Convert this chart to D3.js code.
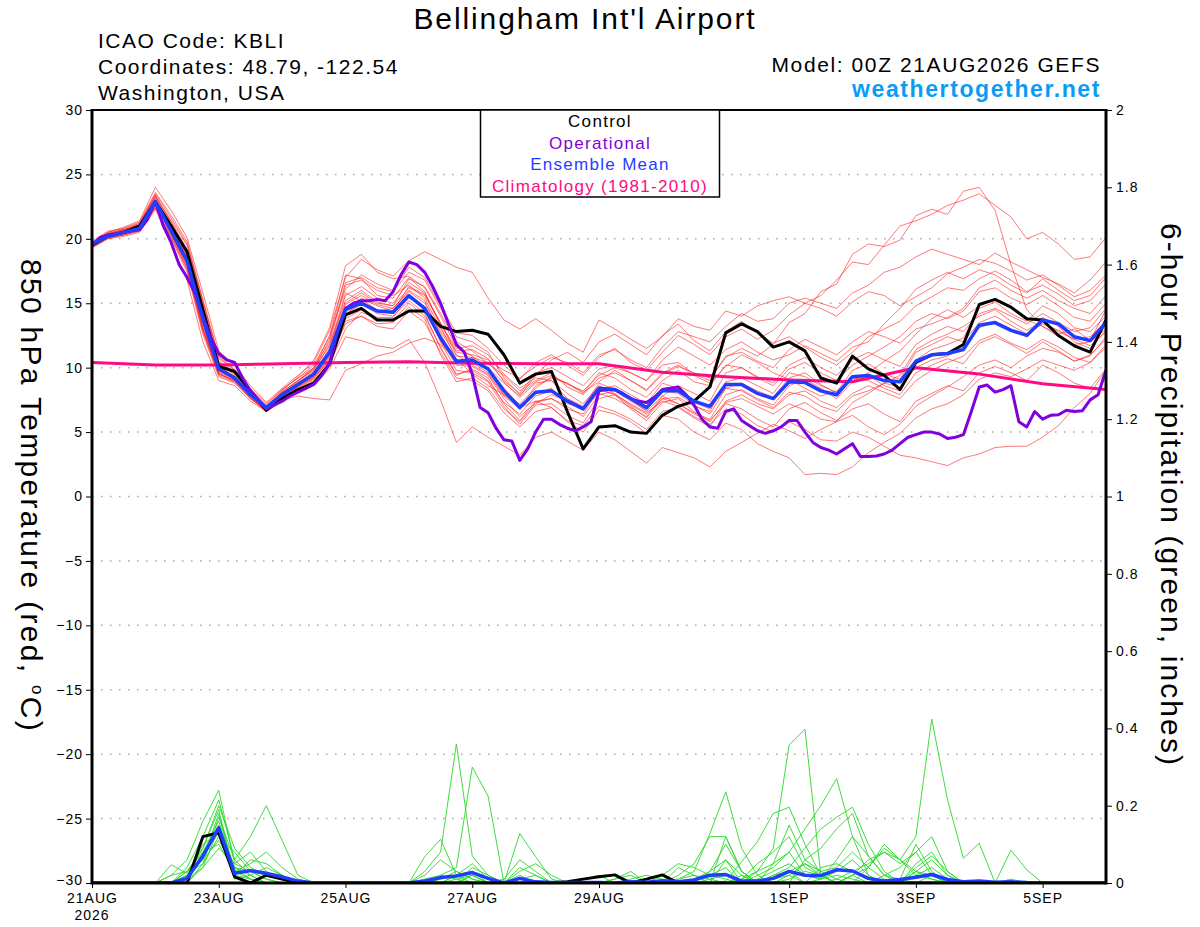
<!DOCTYPE html>
<html>
<head>
<meta charset="utf-8">
<script src="https://cdn.jsdelivr.net/npm/d3@7"></script>
<style>
body { margin: 0; background: #fff; }
text { font-family: "Liberation Sans", Arial, Helvetica, sans-serif; }
</style>
</head>
<body>
<svg id="chart" width="1200" height="927"></svg>
<script>
// forecast hours (00Z 21AUG2026 run, 16 days)
var hours6 = d3.range(0, 385, 6);
var hours3 = d3.range(0, 385, 3);
var hours24 = d3.range(0, 385, 24);

var tempTicks = [-30, -25, -20, -15, -10, -5, 0, 5, 10, 15, 20, 25, 30];
var precipTicks = [0, 0.2, 0.4, 0.6, 0.8, 1, 1.2, 1.4, 1.6, 1.8, 2];
var dateTickHours = [0, 48, 96, 144, 192, 264, 312, 360];
var dateTickLabels = ["21AUG", "23AUG", "25AUG", "27AUG", "29AUG", "1SEP", "3SEP", "5SEP"];

// 850 hPa temperature, 6-hourly
var control = [19.5,20.2,20.5,21.0, 22.9,21.0,19.0,14.5, 10.1,9.7,8.2,6.7, 7.6,8.3,8.8,10.3,
  14.1,14.6,13.7,13.7, 14.4,14.4,13.2,12.8, 12.9,12.6,11.0,8.8, 9.5,9.7,6.6,3.7,
  5.4,5.5,5.0,4.9, 6.3,7.0,7.4,8.5, 12.7,13.4,12.8,11.6, 12.0,11.3,9.2,8.8,
  10.9,9.9,9.4,8.3, 10.4,11.0,11.1,11.8, 14.9,15.3,14.7,13.8, 13.7,12.5,11.7,11.2, 13.7];

var ensMean = [19.6,20.2,20.5,20.8, 22.9,20.6,18.3,13.8, 9.9,9.2,7.9,6.9, 7.9,8.7,9.5,11.2,
  14.5,15.0,14.4,14.3, 15.6,14.6,12.3,10.5, 10.6,9.9,8.2,6.9, 8.1,8.2,7.4,6.8,
  8.4,8.3,7.6,6.9, 8.2,8.2,7.4,7.0, 8.7,8.7,8.0,7.6, 8.9,8.85,8.2,7.9,
  9.3,9.4,9.0,8.9, 10.5,11.0,11.1,11.4, 13.3,13.5,12.9,12.5, 13.7,13.4,12.4,12.1, 13.5];

// operational run, 3-hourly
var operational = [19.5,20.1,20.3,20.4,20.5,20.6,20.7,21.5,
  22.9,21.0,19.7,18.0,17.0,15.8,14.0,12.3,
  11.1,10.6,10.4,9.2,8.2,7.5,6.8,7.1,
  7.4,7.8,8.1,8.4,8.7,9.4,10.3,12.8,
  14.6,15.0,15.2,15.2,15.3,15.2,15.9,17.2,
  18.2,18.0,17.4,16.3,15.0,13.4,11.8,11.2,
  9.5,6.9,6.5,5.3,4.4,4.3,2.8,3.7,
  5.0,6.0,6.0,5.6,5.3,5.1,5.4,5.8,
  8.2,8.3,8.3,8.0,7.6,7.4,7.3,7.7,
  8.3,8.4,8.5,7.9,7.1,6.0,5.4,5.3,
  6.6,6.8,5.9,5.5,5.1,4.9,5.1,5.4,
  5.9,5.9,5.0,4.2,3.8,3.6,3.3,3.7,
  4.1,3.1,3.1,3.15,3.3,3.6,4.1,4.6,
  4.8,5.0,5.0,4.85,4.5,4.6,4.8,6.6,
  8.5,8.65,8.1,8.3,8.6,5.8,5.4,6.6,
  6.0,6.3,6.35,6.7,6.6,6.65,7.5,7.9,
  9.8];

// climatology (1981-2010), daily
var climatology = [10.4,10.2,10.2,10.3,10.4,10.45,10.35,10.3,10.3,9.65,9.3,9.05,8.9,10.0,9.5,8.75,8.3];

// ensemble members, 850 hPa temperature, 6-hourly
var members = [
  [19.4,20.3,20.6,21.2,23.3,21.4,19.5,15.0,10.8,9.8,8.2,6.8,8.1,9.0,9.8,
   11.8,15.2,16.0,15.1,14.8,16.9,16.3,14.2,12.0,11.3,
   10.3,9.4,8.2,9.0,9.6,8.5,7.9,9.2,9.6,9.0,8.2,9.5,10.1,9.6,9.2,10.8,11.5,10.9,11.8,13.5,14.2,15.9,16.5,
   18.8,19.6,19.4,19.9,21.8,22.3,21.9,23.7,24.0,22.2,18.0,14.5,13.2,12.6,13.0,12.1,14.5],
  [19.7,20.4,20.7,21.0,22.6,20.9,18.8,14.2,10.4,9.6,8.4,7.2,8.3,9.2,10.0,
   12.5,16.1,17.2,16.5,16.0,17.8,17.0,14.8,12.7,12.5,
   11.5,10.2,9.1,10.4,11.0,10.2,9.4,10.8,11.5,10.4,9.8,11.2,12.5,11.8,11.0,12.4,13.0,12.2,12.9,14.1,15.0,15.6,16.8,
   18.2,18.0,19.5,21.0,21.4,21.9,22.6,23.0,23.5,22.6,21.7,20.0,20.5,19.6,18.4,18.6,20.1],
  [19.5,20.1,20.3,20.6,22.4,20.2,17.6,12.8,9.5,9.0,7.7,6.6,7.6,8.4,9.1,
   10.6,13.4,14.0,13.2,13.0,14.4,13.5,11.2,9.2,9.0,
   8.2,6.5,5.4,6.6,6.9,5.8,5.0,6.7,6.4,5.8,4.9,6.3,6.0,5.0,4.4,5.7,5.2,4.1,3.5,3.0,1.7,1.8,1.7,
   2.3,3.4,4.2,4.9,6.1,6.8,7.2,7.9,9.1,9.6,9.3,9.9,10.6,10.2,9.8,10.4,11.8],
  [19.4,20.2,20.5,20.9,23.0,20.8,18.6,13.9,10.1,9.3,8.0,7.0,8.0,8.8,9.7,
   11.5,14.9,15.6,14.9,14.6,15.9,15.0,12.8,10.9,10.8,
   9.8,8.4,7.1,8.0,8.4,7.2,6.9,8.3,7.9,7.2,6.5,7.4,7.0,6.2,5.6,6.8,6.4,5.5,5.0,5.8,5.2,4.4,4.3,
   5.0,4.6,3.9,3.2,3.0,2.7,2.4,3.0,3.3,3.8,3.9,3.9,4.6,5.5,6.9,8.0,9.8],
  [19.6,20.5,20.9,21.4,24.0,22.2,20.1,15.8,11.3,10.2,8.6,7.3,8.4,9.4,10.4,
   12.9,17.0,18.4,17.6,17.1,18.3,19.0,18.4,17.8,17.4,
   15.4,13.7,13.0,13.8,12.9,11.9,11.2,13.7,13.0,12.2,11.5,12.4,13.8,13.2,12.9,14.4,14.0,14.8,15.2,15.5,15.0,14.6,14.0,
   15.1,15.9,15.6,14.8,15.5,16.2,17.3,17.8,18.4,18.1,17.5,16.8,17.2,16.4,15.5,16.0,17.2],
  [19.3,20.0,20.2,20.5,22.3,19.6,16.8,12.0,9.0,8.6,7.4,6.6,7.4,8.1,8.7,
   9.9,12.4,12.1,11.7,11.5,12.2,10.4,7.5,4.2,5.4,
   4.6,3.9,3.2,4.6,5.0,4.3,3.6,5.0,4.4,3.5,2.6,3.8,3.4,3.0,2.3,3.5,4.2,4.9,5.6,5.1,4.5,5.2,5.8,
   6.3,5.4,4.8,5.6,7.0,7.8,8.5,9.3,10.2,10.6,10.0,10.9,11.5,11.2,10.5,11.0,12.2],
  [19.5,20.3,20.4,20.7,22.7,20.3,17.9,13.0,9.6,8.9,7.6,6.7,7.5,7.8,7.6,
   7.5,9.8,10.3,10.9,11.2,11.9,12.3,11.8,10.7,9.5,
   8.6,7.9,7.2,8.4,9.3,8.8,8.1,8.9,9.8,9.0,8.3,9.6,10.2,9.4,8.8,10.1,11.0,10.4,9.6,9.1,8.4,7.8,8.2,
   9.0,9.6,10.5,11.3,12.6,13.8,14.5,13.9,14.8,15.3,14.6,13.7,13.2,12.4,11.8,12.0,13.0],
  [19.8,20.6,20.8,21.3,23.6,21.8,19.8,15.2,10.9,9.9,8.3,7.0,8.2,9.3,10.6,
   13.1,17.9,18.8,17.4,16.9,17.1,16.2,14.0,11.6,10.9,
   10.0,8.8,7.8,9.4,10.6,11.2,10.4,12.0,12.6,11.8,11.0,12.5,13.4,12.1,11.3,12.8,13.6,12.7,11.9,12.4,11.6,10.8,10.2,
   11.2,12.4,13.0,13.6,14.8,15.5,16.2,16.0,16.9,17.5,16.8,15.9,16.4,15.7,14.8,15.2,16.5],
  [19.4,20.1,20.4,20.8,22.8,20.5,18.0,13.2,9.8,9.2,7.8,6.6,7.8,8.7,9.4,
   11.0,14.6,15.3,14.5,14.2,15.4,14.7,12.0,9.8,9.6,
   8.9,7.0,5.6,7.1,7.2,6.3,5.7,7.6,7.9,6.8,5.9,7.3,7.6,6.6,5.8,7.4,7.9,7.2,6.8,7.9,8.2,7.4,6.9,
   8.0,8.6,8.1,7.6,9.0,9.8,10.4,10.9,12.1,12.6,11.9,11.4,12.2,11.6,10.8,10.4,11.6],
  [19.6,20.2,20.5,20.9,23.1,20.9,18.6,13.8,10.0,9.4,8.0,7.0,8.0,8.8,9.6,
   11.4,15.6,16.3,15.4,15.0,16.6,15.8,13.4,11.5,11.7,
   11.0,9.5,8.4,9.2,9.0,7.6,7.0,8.8,8.3,7.5,6.6,7.8,7.2,6.5,6.0,7.9,8.3,7.6,7.1,8.6,9.1,8.4,7.6,
   8.9,9.4,8.6,8.2,10.6,11.4,11.8,12.3,14.6,15.1,14.2,13.6,14.8,14.2,13.1,12.8,14.0],
  [19.7,20.3,20.6,20.9,22.9,20.7,18.2,13.4,9.7,9.1,7.9,6.8,7.9,8.6,9.3,
   10.9,13.8,14.5,13.9,13.9,15.5,14.6,12.1,10.2,10.1,
   9.4,7.6,6.2,7.3,7.6,7.0,6.2,7.9,8.2,7.4,6.7,8.2,8.0,7.1,6.4,8.4,8.2,7.5,6.9,8.1,7.8,7.0,6.6,
   7.8,8.2,8.8,8.5,10.0,10.6,10.9,11.6,13.1,13.6,13.0,12.4,13.9,13.2,12.0,11.5,12.9],
  [19.5,20.4,20.7,21.1,23.4,21.2,19.0,14.5,10.5,9.7,8.2,6.9,8.1,9.0,10.0,
   12.0,16.4,16.8,16.0,15.6,16.4,15.4,13.0,11.2,11.0,
   10.6,9.8,9.2,10.1,10.8,10.4,9.6,11.0,11.4,10.6,10.0,11.6,12.8,12.4,12.0,13.2,14.2,13.6,13.8,15.0,15.4,15.0,14.6,
   15.8,16.4,17.4,17.8,18.6,19.2,18.8,18.4,18.0,18.9,18.2,17.6,17.0,16.5,15.8,16.8,18.2],
  [19.4,20.1,20.3,20.7,22.5,20.0,17.4,12.6,9.3,8.8,7.6,6.6,7.6,8.3,9.0,
   10.3,13.0,14.3,13.8,13.6,15.0,14.0,11.6,9.5,9.8,
   9.0,7.3,6.4,7.8,8.2,7.6,6.9,8.4,7.9,7.0,6.1,7.6,7.2,6.4,5.9,7.2,6.8,6.0,5.4,6.8,7.3,6.5,5.9,
   6.8,7.2,6.4,5.8,7.4,8.0,8.6,8.2,9.6,10.1,9.6,9.0,10.2,9.6,8.8,8.4,9.9],
  [19.6,20.4,20.7,21.0,23.0,20.8,18.4,13.6,10.0,9.3,8.0,6.9,7.9,8.8,9.5,
   11.3,15.0,15.8,15.0,14.8,16.2,15.6,13.5,11.0,10.2,
   9.5,7.8,6.8,8.6,9.2,8.8,8.0,9.6,9.2,8.3,7.7,9.0,9.8,8.9,8.6,10.2,10.0,9.2,8.6,9.9,10.4,9.6,9.0,
   10.2,10.9,11.6,12.4,13.6,14.2,13.8,14.4,15.9,16.2,15.4,14.9,15.6,14.8,13.9,13.6,15.0],
  [19.5,20.2,20.5,20.8,22.8,20.6,18.1,13.1,9.6,9.0,7.8,6.8,7.8,8.6,9.3,
   10.8,14.2,14.9,14.2,14.0,15.2,14.2,11.5,9.4,9.9,
   9.2,7.2,5.9,7.4,7.6,6.8,6.4,8.3,8.6,7.9,7.2,8.8,8.4,7.3,6.8,8.4,8.8,8.2,7.7,9.2,9.6,8.7,8.0,
   9.2,9.0,8.4,7.9,9.6,10.2,10.7,10.3,11.9,12.4,11.8,11.1,12.0,11.3,10.5,10.9,12.4],
  [19.7,20.5,20.8,21.2,23.5,21.6,19.6,15.3,10.7,9.8,8.3,7.1,8.3,9.2,10.2,
   12.4,17.2,16.9,15.6,15.4,17.0,15.9,13.2,10.6,10.4,
   9.6,7.9,6.9,7.4,6.9,5.9,5.5,7.0,6.6,6.0,5.2,6.6,6.9,6.1,5.4,7.3,7.6,7.0,6.4,7.2,6.7,6.0,5.8,
   7.3,8.0,8.8,9.4,11.4,12.1,12.6,13.2,14.0,14.5,13.6,12.9,13.6,12.8,12.2,11.7,12.8],
  [19.3,20.0,20.3,20.6,22.4,20.1,17.7,12.9,9.4,8.9,7.6,6.7,7.7,8.5,9.2,
   10.7,14.0,15.4,14.8,14.4,16.3,15.7,13.4,11.3,11.4,
   10.7,8.9,7.7,8.8,9.0,8.0,7.2,8.6,8.0,7.1,6.4,7.6,7.7,7.0,6.6,8.9,9.2,8.6,8.0,9.6,9.3,8.6,8.1,
   9.8,10.3,9.5,9.1,11.2,11.8,12.4,12.0,13.5,14.0,13.3,12.6,13.4,12.9,12.2,12.4,13.6],
  [19.6,20.3,20.6,21.0,23.2,21.0,18.8,14.0,10.2,9.5,8.1,7.0,8.1,9.0,9.9,
   11.7,15.8,15.2,14.4,14.6,16.0,15.2,12.6,10.4,10.8,
   10.4,9.0,8.0,9.6,10.0,9.3,8.6,9.9,10.2,9.6,9.0,10.2,10.4,9.5,9.0,10.9,11.2,10.5,10.0,11.4,12.2,11.6,11.0,
   12.0,12.8,12.4,11.9,13.0,13.4,13.9,14.6,16.2,16.8,16.0,15.4,16.0,15.2,14.6,14.2,15.6],
  [19.5,20.2,20.4,20.8,22.6,20.4,17.8,13.0,9.5,9.0,7.7,6.7,7.7,8.5,9.2,
   10.6,13.6,14.0,13.4,13.5,14.7,13.8,11.0,8.9,9.2,
   8.4,6.8,5.8,7.2,7.9,7.4,6.8,8.0,7.6,6.9,6.2,7.8,8.6,8.0,7.4,9.6,10.0,9.3,8.8,10.2,10.8,10.0,9.4,
   10.6,11.2,10.6,10.1,11.8,12.6,13.2,12.8,14.2,14.6,14.0,13.4,14.2,13.5,12.8,13.1,14.6],
  [19.6,20.4,20.7,21.1,23.3,21.3,19.2,14.6,10.4,9.6,8.1,6.9,8.0,8.9,9.9,
   12.2,16.6,17.0,16.2,15.9,17.4,16.8,14.6,12.4,12.0,
   11.2,9.2,7.9,8.9,9.4,8.7,8.2,9.4,10.0,9.6,9.0,10.6,11.6,10.9,10.2,11.4,12.0,11.2,10.6,11.0,11.7,11.1,10.5,
   11.6,12.0,13.4,14.6,16.1,16.8,17.4,16.9,17.6,17.2,16.4,15.8,16.9,16.0,15.2,15.6,17.0]
];

// 6-hour precipitation (inches), 6-hourly
var controlPrecip = [0,0,0,0, 0,0,0,0.12, 0.13,0.016,0,0.02, 0.01,0,0,0, 0,0,0,0, 0,0,0,0, 0,0,0,0,
  0,0,0.003,0.01, 0.016,0.021,0,0.01, 0.021,0,0,0, 0,0,0,0, 0,0,0,0, 0,0,0,0, 0,0,0,0,
  0,0,0,0, 0,0,0,0, 0];
var meanPrecip = [0,0,0,0, 0,0,0.012,0.07, 0.143,0.025,0.032,0.025, 0.016,0.005,0,0, 0,0,0,0,
  0,0.005,0.014,0.018, 0.027,0.012,0,0.012, 0.003,0.001,0.001,0.001, 0.001,0,0.003,0.002,
  0.006,0.003,0.008,0.02, 0.022,0.005,0.005,0.012, 0.03,0.02,0.019,0.034, 0.031,0.012,0.005,0.009,
  0.015,0.022,0.009,0.003, 0.005,0.002,0.003,0.001, 0,0,0,0, 0];

var memberPrecip = [
  [0,0,0,0, 0,0.02,0.06,0.16, 0.24,0.05,0.03,0.01, 0,0,0,0, 0,0,0,0, 0,0,0,0.02, 0.05,0.01,0,0, 0,0,0,0,
   0,0,0,0, 0,0,0.01,0.03, 0.06,0.02,0,0, 0.01,0.03,0.02,0, 0,0,0,0, 0.02,0.04,0.01,0, 0,0,0,0, 0,0,0,0, 0],
  [0,0,0,0, 0,0,0.04,0.12, 0.215,0.06,0.02,0, 0,0,0,0, 0,0,0,0, 0,0.02,0.06,0.03, 0.01,0,0,0, 0,0,0,0,
   0,0,0,0, 0,0,0,0.01, 0.02,0,0.01,0.03, 0.05,0.02,0.01,0.03, 0.06,0.02,0,0, 0,0.02,0,0, 0,0,0,0, 0,0,0,0, 0],
  [0,0,0,0, 0,0,0.03,0.09, 0.2,0.09,0.04,0.02, 0.01,0,0,0, 0,0,0,0, 0,0.068,0.113,0.02, 0,0,0,0, 0,0,0,0.01,
   0.02,0,0,0, 0,0,0,0, 0.12,0.03,0,0.01, 0.02,0,0.04,0.05, 0.03,0.01,0,0, 0.05,0.08,0.02,0, 0,0,0,0, 0,0,0,0, 0],
  [0,0,0,0, 0,0.047,0.025,0.05, 0.17,0.06,0.12,0.2, 0.11,0.02,0,0, 0,0,0,0, 0,0,0,0, 0.02,0,0,0, 0,0,0,0,
   0,0,0,0, 0,0.01,0.02,0.01, 0,0,0.02,0.04, 0.08,0.02,0.01,0.06, 0.12,0.07,0.02,0, 0,0,0,0, 0,0,0,0, 0,0,0,0, 0],
  [0,0,0,0, 0,0,0.01,0.07, 0.15,0.04,0.02,0, 0,0,0,0, 0,0,0,0, 0,0.03,0.08,0.36, 0.07,0.02,0,0.02, 0,0,0,0,
   0,0,0,0, 0,0,0,0, 0,0.01,0.05,0.08, 0.12,0.04,0.02,0, 0.02,0.04,0.09,0.06, 0.03,0.01,0,0, 0,0,0,0, 0,0,0,0, 0],
  [0,0,0,0, 0,0,0.02,0.1, 0.13,0.03,0.01,0, 0,0,0,0, 0,0,0,0, 0,0,0.02,0.04, 0.3,0.225,0,0.01, 0.02,0,0,0,
   0,0,0,0, 0,0.02,0.05,0.12, 0.12,0.03,0,0, 0.02,0.05,0.03,0.01, 0,0,0.02,0.04, 0.08,0.12,0.03,0, 0,0,0,0, 0,0,0,0, 0],
  [0,0,0,0, 0,0,0,0.05, 0.12,0.08,0.03,0.01, 0,0,0,0, 0,0,0,0, 0,0,0,0, 0.04,0.02,0,0.128, 0.068,0.01,0,0,
   0,0,0,0, 0.02,0.05,0.04,0.02, 0.01,0,0,0, 0,0.06,0.09,0.14, 0.18,0.07,0.02,0.01, 0,0,0,0, 0,0,0,0, 0,0,0,0, 0],
  [0,0,0,0, 0,0,0.01,0.08, 0.1,0.03,0.05,0.08, 0.04,0.01,0,0, 0,0,0,0, 0,0,0,0, 0.02,0,0.01,0.06, 0.03,0,0,0,
   0,0,0,0, 0,0.01,0.03,0.128, 0.236,0.09,0.02,0, 0,0,0.01,0.02, 0.01,0,0,0, 0.03,0.06,0.02,0, 0,0,0,0, 0,0,0,0, 0],
  [0,0,0,0, 0,0,0.02,0.06, 0.18,0.02,0,0, 0,0,0,0, 0,0,0,0, 0,0,0,0, 0,0,0,0, 0,0,0,0,
   0,0,0,0, 0,0,0,0, 0.005,0.055,0.107,0.18, 0.196,0.1,0.02,0, 0.02,0,0,0.01, 0.1,0.03,0,0, 0,0,0,0, 0,0,0,0, 0],
  [0,0,0,0, 0,0,0.03,0.08, 0.16,0.04,0.03,0.02, 0.01,0,0,0, 0,0,0,0, 0,0,0.01,0.02, 0.03,0,0,0, 0,0,0,0,
   0,0,0,0, 0,0,0.01,0.02, 0.04,0,0.03,0.09, 0.357,0.398,0.02,0, 0,0.04,0.1,0.06, 0.02,0.01,0,0, 0,0,0,0, 0,0,0,0, 0],
  [0,0,0,0, 0,0,0,0.04, 0.14,0.02,0.06,0.05, 0.02,0,0,0, 0,0,0,0, 0,0,0,0.01, 0.02,0,0,0.04, 0.02,0,0,0,
   0,0,0,0, 0,0,0,0, 0,0.01,0.03,0.05, 0.08,0.14,0.2,0.27, 0.12,0.02,0,0, 0.04,0.07,0.03,0, 0,0,0,0, 0,0,0,0, 0],
  [0,0,0,0, 0,0.02,0.03,0.06, 0.11,0.04,0.01,0, 0,0,0,0, 0,0,0,0, 0,0.01,0.02,0.01, 0,0,0,0, 0,0,0,0,
   0,0.01,0.02,0, 0,0,0,0, 0,0.02,0,0.02, 0.04,0.09,0.14,0.17, 0.196,0.1,0.03,0, 0.03,0.02,0,0, 0,0,0,0, 0,0,0,0, 0],
  [0,0,0,0, 0,0,0.02,0.09, 0.19,0.02,0.01,0, 0,0,0,0, 0,0,0,0, 0,0,0.01,0.03, 0.01,0,0,0, 0,0,0,0,
   0,0,0,0, 0,0,0,0, 0,0,0,0.01, 0.03,0,0,0.01, 0.03,0.05,0.08,0.06, 0.12,0.424,0.215,0.064, 0.103,0,0.085,0.034, 0,0,0,0, 0],
  [0,0,0,0, 0,0,0.01,0.04, 0.09,0.05,0.08,0.03, 0.01,0,0,0, 0,0,0,0, 0,0,0,0.02, 0.03,0.01,0,0.03, 0.05,0.02,0,0,
   0,0.01,0.03,0, 0,0.04,0.02,0, 0.06,0,0,0.02, 0.03,0.05,0.02,0, 0.02,0.06,0.08,0.05, 0.08,0.02,0.01,0, 0,0,0.01,0, 0,0,0,0, 0],
  [0,0,0,0, 0,0,0.02,0.07, 0.13,0.01,0.02,0.04, 0.02,0,0,0, 0,0,0,0, 0,0,0,0, 0,0,0,0, 0,0,0,0,
   0,0,0.01,0.02, 0.01,0,0,0.03, 0.1,0.03,0,0.05, 0.15,0.06,0.03,0.04, 0.08,0.04,0.01,0, 0,0,0,0, 0,0,0,0, 0,0,0,0, 0]
];

var legendItems = [
  {label: "Control", color: "#000000"},
  {label: "Operational", color: "#8000e0"},
  {label: "Ensemble Mean", color: "#1f3dff"},
  {label: "Climatology (1981-2010)", color: "#ff0a82"}
];

var margin = {top: 110, right: 94, bottom: 44, left: 92};
var width = 1200 - margin.left - margin.right;
var height = 927 - margin.top - margin.bottom;

var svg = d3.select("#chart");

var x = d3.scaleLinear().domain([0, 384]).range([0, width]);
var yT = d3.scaleLinear().domain([-30, 30]).range([height, 0]);
var yP = d3.scaleLinear().domain([0, 2]).range([height, 0]);

var main = svg.append("g")
    .attr("transform", "translate(" + margin.left + "," + margin.top + ")");

main.append("clipPath").attr("id", "plotclip")
  .append("rect").attr("x", 0).attr("y", -2).attr("width", width).attr("height", height + 2);

// dotted grid
main.append("g").selectAll("line")
    .data(tempTicks.filter(function(d) { return d > -30 && d < 30; }))
    .enter().append("line")
    .attr("x1", 0).attr("x2", width)
    .attr("y1", function(d) { return yT(d); })
    .attr("y2", function(d) { return yT(d); })
    .attr("stroke", "#a8a8a8")
    .attr("stroke-width", 1.5)
    .attr("stroke-dasharray", "1.5,7.5");

var plot = main.append("g").attr("clip-path", "url(#plotclip)");

function drawSeries(values, hrs, yScale, color, w, opacity) {
  var line = d3.line()
    .x(function(d, i) { return x(hrs[i]); })
    .y(function(d) { return yScale(d); });
  plot.append("path")
    .datum(values)
    .attr("d", line)
    .attr("fill", "none")
    .attr("stroke", color)
    .attr("stroke-width", w)
    .attr("stroke-opacity", opacity)
    .attr("stroke-linejoin", "round");
}

members.forEach(function(m) { drawSeries(m, hours6, yT, "#ff2020", 1, 0.6); });
memberPrecip.forEach(function(m) { drawSeries(m, hours6, yP, "#2ad82a", 1, 0.9); });

drawSeries(climatology, hours24, yT, "#ff0a82", 3, 1);
drawSeries(controlPrecip, hours6, yP, "#000000", 3, 1);
drawSeries(meanPrecip, hours6, yP, "#1f3dff", 3.5, 1);
drawSeries(control, hours6, yT, "#000000", 3, 1);
drawSeries(operational, hours3, yT, "#8000e0", 3, 1);
drawSeries(ensMean, hours6, yT, "#1f3dff", 3.5, 1);

// axes
var leftAxis = main.append("g")
    .call(d3.axisLeft(yT).tickValues(tempTicks).tickSize(6).tickPadding(3));
var rightAxis = main.append("g")
    .attr("transform", "translate(" + width + ",0)")
    .call(d3.axisRight(yP).tickValues(precipTicks).tickSize(6).tickPadding(4)
      .tickFormat(d3.format("~g")));
var bottomAxis = main.append("g")
    .attr("transform", "translate(0," + height + ")")
    .call(d3.axisBottom(x).tickValues(dateTickHours).tickSize(5).tickPadding(5)
      .tickFormat(function(d, i) { return dateTickLabels[i]; }));

[leftAxis, rightAxis, bottomAxis].forEach(function(a) {
  a.select(".domain").remove();
  a.selectAll(".tick line").attr("stroke", "#000").attr("stroke-width", 1);
  a.selectAll(".tick text")
    .attr("fill", "#000")
    .style("font-size", "14px")
    .style("letter-spacing", "1px")
    .style("font-family", "'Liberation Sans', Arial, sans-serif");
});
// keep the lowest temperature label clear of the first date label
leftAxis.selectAll(".tick text").filter(function(d) { return d === -30; }).attr("dy", "0.1em");

bottomAxis.append("text")
    .attr("x", x(0)).attr("y", 37)
    .attr("text-anchor", "middle")
    .attr("fill", "#000")
    .style("font-size", "14px")
    .style("letter-spacing", "1px")
    .text("2026");

// frame
main.append("line").attr("x1", 0).attr("x2", width).attr("y1", 0).attr("y2", 0)
    .attr("stroke", "#000").attr("stroke-width", 2);
main.append("line").attr("x1", 0).attr("x2", width).attr("y1", height).attr("y2", height)
    .attr("stroke", "#000").attr("stroke-width", 3);
main.append("line").attr("x1", 0).attr("x2", 0).attr("y1", -1).attr("y2", height + 1.5)
    .attr("stroke", "#000").attr("stroke-width", 3);
main.append("line").attr("x1", width).attr("x2", width).attr("y1", -1).attr("y2", height + 1.5)
    .attr("stroke", "#000").attr("stroke-width", 3);

// legend
var legend = svg.append("g");
legend.append("rect")
    .attr("x", 480.5).attr("y", 110).attr("width", 239).attr("height", 87)
    .attr("fill", "#fff").attr("stroke", "#000").attr("stroke-width", 1.5);
legend.selectAll("text.leg")
    .data(legendItems)
    .enter().append("text")
    .attr("class", "leg")
    .attr("x", 600).attr("y", function(d, i) { return 127 + i * 21.7; })
    .attr("text-anchor", "middle")
    .attr("fill", function(d) { return d.color; })
    .style("font-size", "17px")
    .style("letter-spacing", "1.3px")
    .text(function(d) { return d.label; });

// header texts
svg.append("text")
    .attr("x", 585).attr("y", 29)
    .attr("text-anchor", "middle")
    .style("font-size", "30px")
    .style("letter-spacing", "1.9px")
    .text("Bellingham Int'l Airport");

var infoLeft = ["ICAO Code: KBLI", "Coordinates: 48.79, -122.54", "Washington, USA"];
svg.selectAll("text.info")
    .data(infoLeft)
    .enter().append("text")
    .attr("class", "info")
    .attr("x", 98).attr("y", function(d, i) { return 48 + i * 26; })
    .style("font-size", "21px")
    .style("letter-spacing", "1.5px")
    .text(function(d) { return d; });

svg.append("text")
    .attr("x", 1101).attr("y", 72)
    .attr("text-anchor", "end")
    .style("font-size", "21px")
    .style("letter-spacing", "1.6px")
    .text("Model: 00Z 21AUG2026 GEFS");

svg.append("text")
    .attr("x", 1101).attr("y", 97)
    .attr("text-anchor", "end")
    .attr("fill", "#0a9cf5")
    .style("font-size", "23px")
    .style("font-weight", "bold")
    .style("letter-spacing", "1.6px")
    .text("weathertogether.net");

// axis titles
var leftTitle = svg.append("text")
    .attr("transform", "translate(21,496) rotate(90)")
    .attr("text-anchor", "middle")
    .style("font-size", "30px")
    .style("letter-spacing", "2.3px");
leftTitle.append("tspan").text("850 hPa Temperature (red, ");
leftTitle.append("tspan").attr("dy", -11).style("font-size", "17px").text("o");
leftTitle.append("tspan").attr("dy", 11).text("C)");

svg.append("text")
    .attr("transform", "translate(1161,495) rotate(90)")
    .attr("text-anchor", "middle")
    .style("font-size", "30px")
    .style("letter-spacing", "2.1px")
    .text("6-hour Precipitation (green, inches)");
</script>
</body>
</html>
